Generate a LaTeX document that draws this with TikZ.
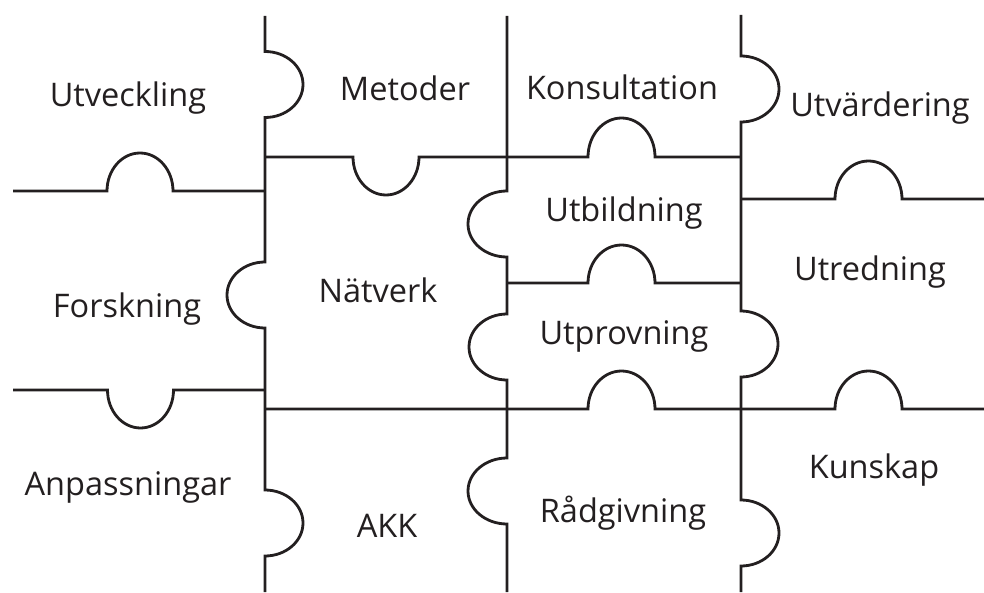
\documentclass[tikz,border=0pt]{standalone}
\usepackage{fontspec}
\setmainfont{Open Sans}
\definecolor{ink}{HTML}{231F20}
\begin{document}
\begin{tikzpicture}[x=1pt,y=-1pt,
  seam/.style={draw=ink,line width=2.8pt,line join=miter},
  lbl/.style={text=ink,font=\fontsize{32.5}{38}\selectfont,inner sep=0pt,anchor=center}]
\useasboundingbox (0,0) rectangle (984,593);
% vertical seams
\draw[seam] (265,16) -- (265,51.5) arc[start angle=-90,end angle=90,x radius=38,y radius=33]
  -- (265,262) arc[start angle=270,end angle=90,x radius=38,y radius=33]
  -- (265,490) arc[start angle=-90,end angle=90,x radius=38,y radius=33] -- (265,592);
\draw[seam] (507,16) -- (507,191) arc[start angle=270,end angle=90,x radius=39,y radius=33]
  -- (507,314) arc[start angle=270,end angle=90,x radius=38,y radius=33]
  -- (507,458) arc[start angle=270,end angle=90,x radius=39,y radius=33] -- (507,592);
\draw[seam] (741,15) -- (741,56) arc[start angle=-90,end angle=90,x radius=38,y radius=33]
  -- (741,311) arc[start angle=-90,end angle=90,x radius=37,y radius=33]
  -- (741,500) arc[start angle=-90,end angle=90,x radius=38,y radius=33] -- (741,592);
% horizontal seams
\draw[seam] (13,191) -- (107,191) arc[start angle=180,end angle=360,x radius=33,y radius=38] -- (265,191);
\draw[seam] (13,390) -- (107.5,390) arc[start angle=180,end angle=0,x radius=33,y radius=38] -- (265,390);
\draw[seam] (265,157) -- (353,157) arc[start angle=180,end angle=0,x radius=33,y radius=38]
  -- (588,157) arc[start angle=180,end angle=360,x radius=33.5,y radius=39] -- (741,157);
\draw[seam] (507,283) -- (588,283) arc[start angle=180,end angle=360,x radius=33.5,y radius=38] -- (741,283);
\draw[seam] (265,409) -- (588,409) arc[start angle=180,end angle=360,x radius=33.5,y radius=38]
  -- (835,409) arc[start angle=180,end angle=360,x radius=33.5,y radius=38] -- (984,409);
\draw[seam] (741,199) -- (835,199) arc[start angle=180,end angle=360,x radius=33.5,y radius=38] -- (984,199);
% labels
\node[lbl] (utveckling) at (128,98) {Utveckling};
\node[lbl] (metoder) at (405,88) {Metoder};
\node[lbl] (konsultation) at (622,87) {Konsultation};
\node[lbl] (utvardering) at (880,108) {Utvärdering};
\node[lbl] (utbildning) at (624,213) {Utbildning};
\node[lbl] (natverk) at (378,290) {Nätverk};
\node[lbl] (forskning) at (127,309) {Forskning};
\node[lbl] (utredning) at (870,272) {Utredning};
\node[lbl] (utprovning) at (624,336) {Utprovning};
\node[lbl] (anpassningar) at (128,487) {Anpassningar};
\node[lbl] (akk) at (387,526) {AKK};
\node[lbl] (radgivning) at (623,513) {Rådgivning};
\node[lbl] (kunskap) at (874,470) {Kunskap};
\end{tikzpicture}
\end{document}
